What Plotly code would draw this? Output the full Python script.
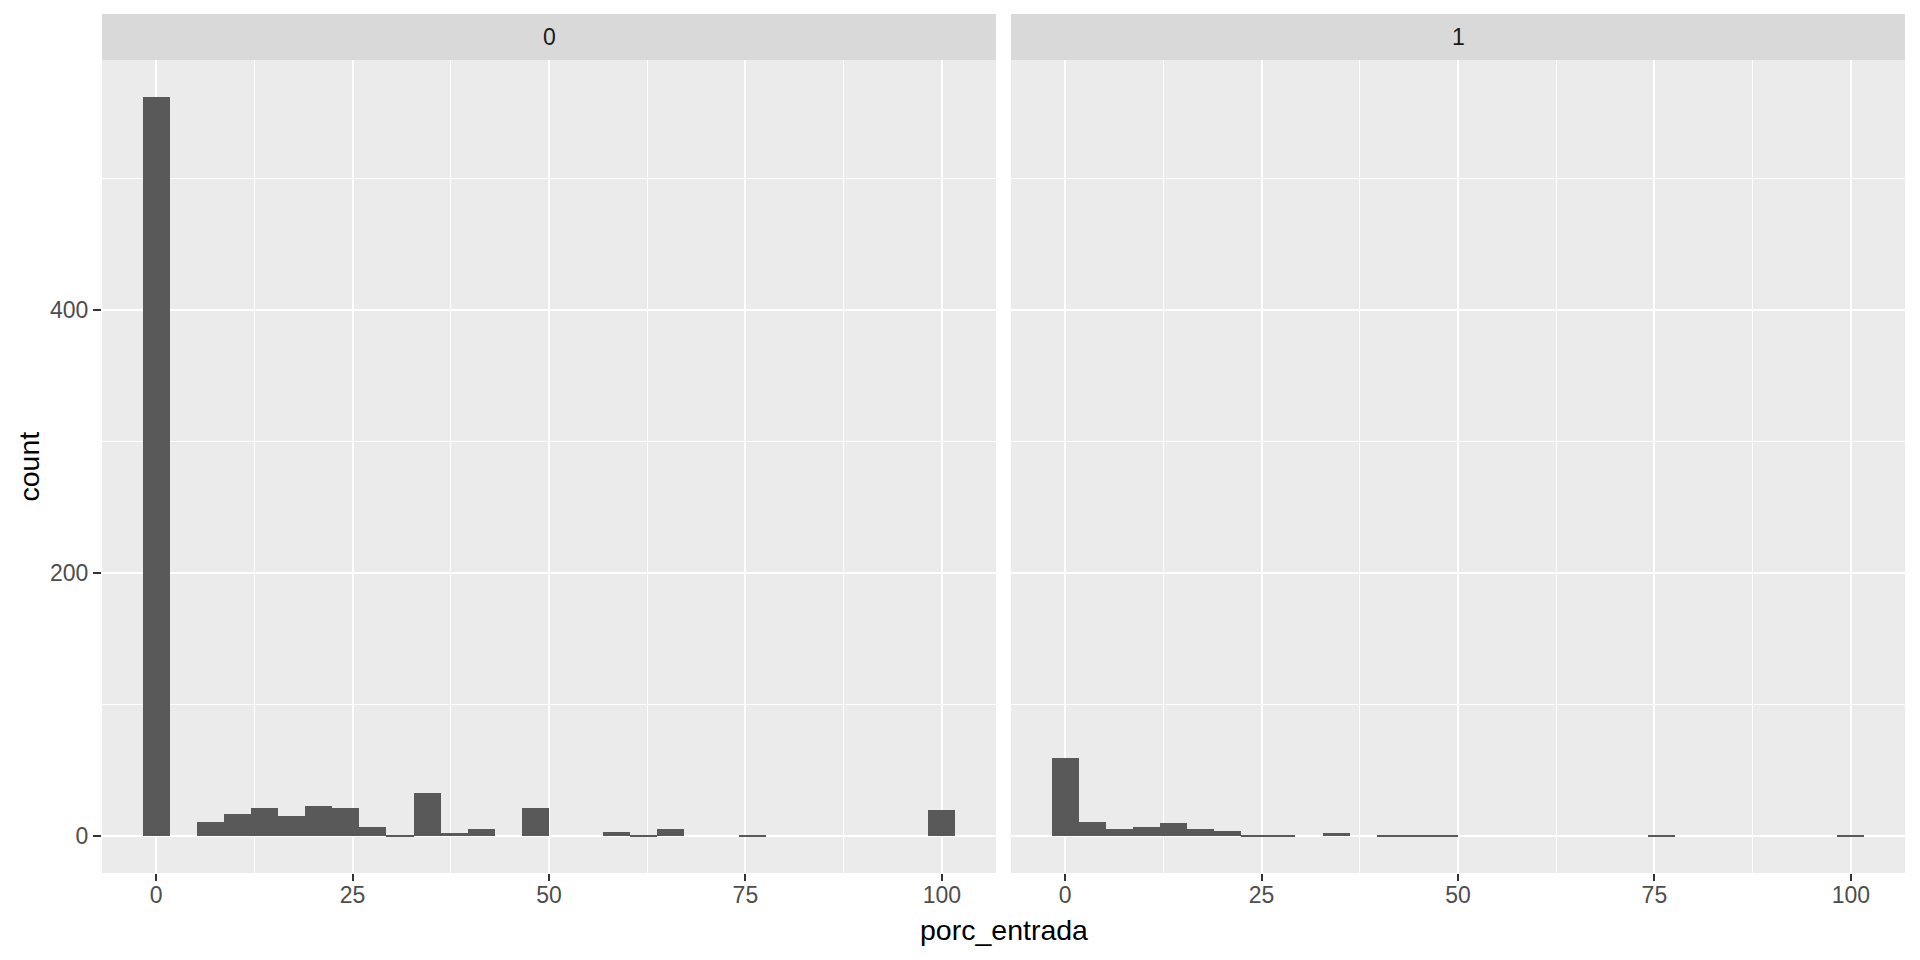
import plotly.graph_objects as go

# ---- data ----
facet_labels = ["0", "1"]
n_bins = 30
x_min, x_max = 0, 100
counts_0 = [562, 0, 11, 17, 21, 15, 23, 21, 7, 1, 33, 2, 5, 0, 21,
            0, 0, 3, 1, 5, 0, 0, 1, 0, 0, 0, 0, 0, 0, 20]
counts_1 = [59, 11, 5, 7, 10, 5, 4, 1, 1, 0, 2, 0, 1, 1, 1,
            0, 0, 0, 0, 0, 0, 0, 1, 0, 0, 0, 0, 0, 0, 1]
x_ticks = [0, 25, 50, 75, 100]
y_ticks = [0, 200, 400]
x_title = "porc_entrada"
y_title = "count"

# ---- ggplot-style binning (bins=30, centred on range ends) ----
binwidth = (x_max - x_min) / (n_bins - 1)
centers = [x_min + i * binwidth for i in range(n_bins)]
lo, hi = x_min - binwidth / 2, x_max + binwidth / 2
pad = (hi - lo) * 0.05
xr = [lo - pad, hi + pad]
ymax = max(max(counts_0), max(counts_1))
yr = [-0.05 * ymax, ymax * 1.05]

W, H = 1920, 960
ml, mr, mt, mb = 102, 15, 14, 87
pw = W - ml - mr
ph = H - mt - mb
strip_h = 46
panel_top = 1 - strip_h / ph
gap = 15
d0 = [0, (pw - gap) / 2 / pw]
d1 = [1 - (pw - gap) / 2 / pw, 1]

fig = go.Figure()
for i, cnt in enumerate([counts_0, counts_1]):
    fig.add_trace(go.Bar(
        x=centers, y=cnt, width=binwidth,
        marker=dict(color="#595959", line=dict(width=0)),
        xaxis="x" if i == 0 else "x2", yaxis="y" if i == 0 else "y2",
        showlegend=False, hoverinfo="x+y",
    ))

font_main = "Liberation Sans, Arial, sans-serif"
axis_common = dict(
    showline=False, zeroline=False, showgrid=True, gridcolor="white",
    gridwidth=2.2, ticks="outside", ticklen=7, tickwidth=2,
    tickcolor="#333333", tickfont=dict(family=font_main, size=23, color="#4D4D4D"),
)
xa = dict(axis_common, range=xr, tickmode="array", tickvals=x_ticks,
          ticklabelstandoff=-6,
          minor=dict(tickmode="array", tickvals=[12.5, 37.5, 62.5, 87.5],
                     showgrid=True, gridcolor="white", gridwidth=1.1, ticks=""))
ya = dict(axis_common, range=yr, tickmode="array", tickvals=y_ticks, ticklen=8,
          minor=dict(tickmode="array", tickvals=[100, 300, 500],
                     showgrid=True, gridcolor="white", gridwidth=1.1, ticks=""))

fig.update_layout(
    width=W, height=H,
    margin=dict(l=ml, r=mr, t=mt, b=mb, pad=0),
    paper_bgcolor="white", plot_bgcolor="#EBEBEB",
    bargap=0,
    xaxis=dict(xa, domain=d0, anchor="y"),
    xaxis2=dict(xa, domain=d1, anchor="y2"),
    yaxis=dict(ya, domain=[0, panel_top], anchor="x"),
    yaxis2=dict(ya, domain=[0, panel_top], anchor="x2", showticklabels=False, ticks=""),
    font=dict(family=font_main),
)

# strips
shapes = []
annotations = []
for lab, d in zip(facet_labels, [d0, d1]):
    shapes.append(dict(type="rect", xref="paper", yref="paper",
                       x0=d[0], x1=d[1], y0=panel_top, y1=1,
                       fillcolor="#D9D9D9", line=dict(width=0), layer="below"))
    annotations.append(dict(text=lab, xref="paper", yref="paper",
                            x=(d[0] + d[1]) / 2, y=(panel_top + 1) / 2,
                            xanchor="center", yanchor="middle", showarrow=False,
                            font=dict(family=font_main, size=23, color="#1A1A1A")))

annotations.append(dict(text=x_title, xref="paper", yref="paper", x=0.5, y=0,
                        yshift=-57, xanchor="center", yanchor="middle", showarrow=False,
                        font=dict(family=font_main, size=28.5, color="black")))
annotations.append(dict(text=y_title, xref="paper", yref="paper", x=0,
                        y=panel_top / 2, xshift=-74, textangle=-90,
                        xanchor="center", yanchor="middle", showarrow=False,
                        font=dict(family=font_main, size=28.5, color="black")))
fig.update_layout(shapes=shapes, annotations=annotations)

fig.write_html("out.html", config={"displayModeBar": False},
               post_script="document.body.style.margin='0';")
